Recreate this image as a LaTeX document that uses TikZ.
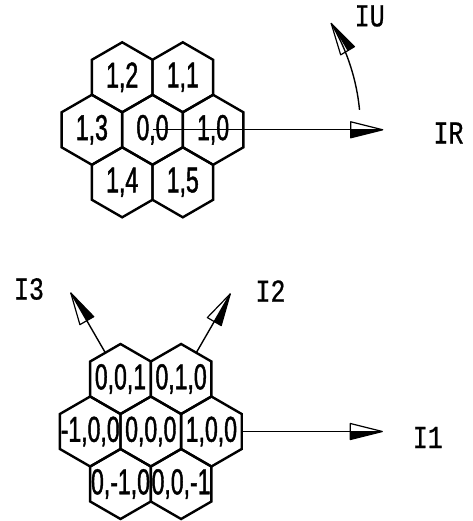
\documentclass[tikz,border=0pt]{standalone}
\usepackage{fontspec}
\newfontfamily\cellfont[FakeStretch=0.64,FakeBold=1.2]{Liberation Sans}
\newfontfamily\axisfont[FakeStretch=0.78,FakeBold=0.6]{Liberation Mono}
\usetikzlibrary{shapes.geometric,calc,decorations.markings}

% half-filled open arrowhead: right-hand half black
\newcommand\halfhead{%
  \fill[black] (0pt,0pt) -- (-32pt,-8pt) -- (-32pt,0pt) -- cycle;
  \draw[line width=1.2pt,line join=round] (0pt,0pt) -- (-32pt,8pt) -- (-32pt,-8pt) -- cycle;}

\begin{document}
\begin{tikzpicture}[x=1pt,y=1pt,
  cell/.style={regular polygon, regular polygon sides=6, shape border rotate=30,
    minimum size=70pt, inner sep=0pt, outer sep=0pt, draw, line width=2.4pt},
  celltext/.style={inner sep=0pt, font=\cellfont\fontsize{36}{36}\selectfont},
  axis/.style={line width=1.4pt, postaction={decorate,
    decoration={markings, mark=at position 1 with {\halfhead}}}},
  axislabel/.style={inner sep=0pt, font=\axisfont\fontsize{32}{32}\selectfont}]
\useasboundingbox (0,0) rectangle (472,521);

% two-index cell grid
\node[cell,label={[celltext]center:1,2}] (h12) at (122.2,443.7) {};
\node[cell,label={[celltext]center:1,1}] (h11) at (182.8,443.7) {};
\node[cell,label={[celltext]center:1,3}] (h13) at (91.9,391.2) {};
\node[cell,label={[celltext]center:0,0}] (h00) at (152.5,391.2) {};
\node[cell,label={[celltext]center:1,0}] (h10) at (213.1,391.2) {};
\node[cell,label={[celltext]center:1,4}] (h14) at (122.2,338.7) {};
\node[cell,label={[celltext]center:1,5}] (h15) at (182.8,338.7) {};

% three-index cell grid
\node[cell,label={[celltext]center:0,0,1}] (b001) at (120.5,142) {};
\node[cell,label={[celltext]center:0,1,0}] (b010) at (181.1,142) {};
\node[cell,label={[celltext]center:-1,0,0}] (bm100) at (90.2,89.5) {};
\node[cell,label={[celltext]center:0,0,0}] (b000) at (150.8,89.5) {};
\node[cell,label={[celltext]center:1,0,0}] (b100) at (211.4,89.5) {};
\node[cell,label={[celltext]center:0,-1,0}] (b0m10) at (120.5,37) {};
\node[cell,label={[celltext]center:0,0,-1}] (b00m1) at (181.1,37) {};

% direction ends
\coordinate (tipR) at (382.7,391.2);
\coordinate (iuS) at ($(h00.center)+(5.5:208)$);
\coordinate (tip1) at (382.3,89.5);
\coordinate (tip2) at ($(b000.center)+(60:159)$);
\coordinate (tip3) at ($(b000.center)+(120:160)$);

% directions
\draw[axis] (h00.center) -- (tipR);
\draw[axis] (iuS) arc[start angle=5.5, end angle=30.8, radius=208];
\draw[axis] (b100.0) -- (tip1);
\draw[axis] (b010.60) -- (tip2);
\draw[axis] (b001.120) -- (tip3);

% direction labels
\node[axislabel] (lR) at (448.5,388) {IR};
\node[axislabel] (lU) at (369.7,505) {IU};
\node[axislabel] (l1) at (427.8,83.5) {I1};
\node[axislabel] (l2) at (270.5,230) {I2};
\node[axislabel] (l3) at (29,232) {I3};
\end{tikzpicture}
\end{document}
